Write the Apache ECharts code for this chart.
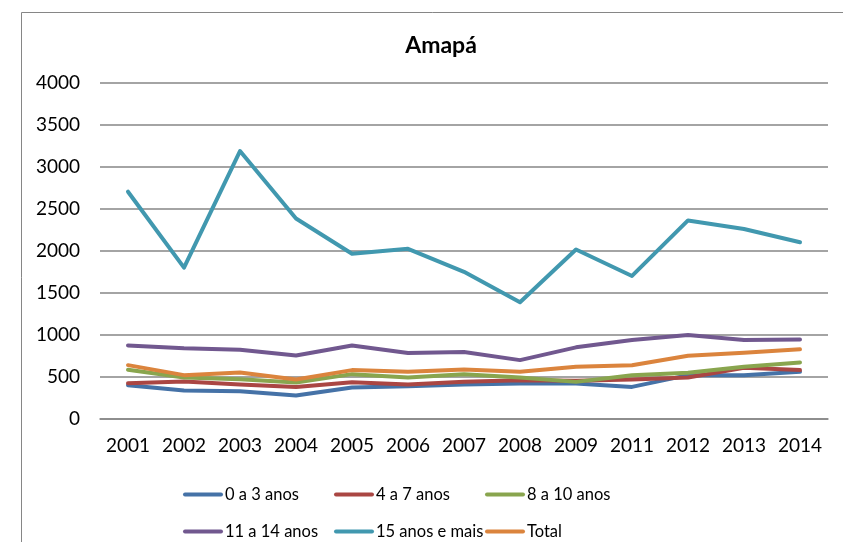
<!DOCTYPE html>
<html>
<head>
<meta charset="utf-8">
<script src="https://cdn.jsdelivr.net/npm/echarts@6/dist/echarts.min.js"></script>
<style>
html,body{margin:0;padding:0;background:#fff;}
#chart{width:843px;height:542px;}
</style>
</head>
<body>
<div id="chart"></div>
<script>
const title = "Amapá";
const years = ["2001","2002","2003","2004","2005","2006","2007","2008","2009","2011","2012","2013","2014"];
const yTicks = [0, 500, 1000, 1500, 2000, 2500, 3000, 3500, 4000];
const seriesNames = ["0 a 3 anos", "4 a 7 anos", "8 a 10 anos", "11 a 14 anos", "15 anos e mais", "Total"];
const age0to3   = [402, 339, 331, 279, 374, 390, 410, 422, 422, 382, 522, 522, 562];
const age4to7   = [426, 446, 410, 382, 438, 410, 442, 462, 454, 470, 494, 610, 582];
const age8to10  = [586, 494, 474, 434, 534, 494, 534, 494, 442, 522, 550, 622, 673];
const age11to14 = [876, 841, 825, 757, 876, 785, 797, 701, 853, 940, 1000, 940, 945];
const age15plus = [2706, 1802, 3190, 2387, 1967, 2026, 1752, 1389, 2018, 1703, 2364, 2262, 2104];
const total     = [641, 522, 554, 470, 582, 562, 590, 562, 622, 641, 753, 789, 829];

const seriesData = [age0to3, age4to7, age8to10, age11to14, age15plus, total];
const colors = ["#4572A7", "#AA4643", "#89A54E", "#71588F", "#4198AF", "#DB843D"];
const font = "Lato, 'Liberation Sans', sans-serif";

const legendPos = [
  {left: 178, top: 481}, {left: 329, top: 481}, {left: 480, top: 481},
  {left: 178, top: 518}, {left: 329, top: 518}, {left: 480, top: 518}
];

const chart = echarts.init(document.getElementById('chart'), null, {renderer: 'canvas'});
const option = {
  backgroundColor: '#ffffff',
  animation: false,
  color: colors,
  title: {
    text: title,
    left: 436,
    textAlign: 'center',
    top: 29,
    textStyle: {fontFamily: font, fontWeight: 'bold', fontSize: 23, color: '#000'}
  },
  graphic: [{
    type: 'rect',
    shape: {x: 21.5, y: 12.5, width: 900, height: 600},
    style: {fill: 'none', stroke: '#868686', lineWidth: 1},
    silent: true
  }],
  legend: seriesNames.map((n, i) => ({
    data: [n],
    left: legendPos[i].left,
    top: legendPos[i].top,
    itemWidth: 40,
    itemHeight: 4,
    icon: 'path://M2,0 L38,0 A2,2 0 0 1 38,4 L2,4 A2,2 0 0 1 2,0 Z',
    textStyle: {fontFamily: font, fontSize: 16.5, color: '#000', padding: [0, 0, 0, -3]}
  })),
  grid: {left: 100, right: 15, top: 83, bottom: 123, containLabel: false},
  xAxis: {
    type: 'category',
    data: years,
    boundaryGap: true,
    axisLine: {show: true, lineStyle: {color: '#868686', width: 1.5}},
    axisTick: {show: false},
    axisLabel: {fontFamily: font, fontSize: 19, color: '#000', margin: 17, interval: 0}
  },
  yAxis: {
    type: 'value',
    min: yTicks[0],
    max: yTicks[yTicks.length - 1],
    interval: yTicks[1] - yTicks[0],
    axisLine: {show: false},
    axisTick: {show: false},
    splitLine: {show: true, lineStyle: {color: '#868686', width: 1.5}},
    axisLabel: {fontFamily: font, fontSize: 19, color: '#000', margin: 20, formatter: v => String(v)}
  },
  series: seriesNames.map((n, i) => ({
    name: n,
    type: 'line',
    data: seriesData[i],
    symbol: 'none',
    lineStyle: {width: 4, color: colors[i], cap: 'round', join: 'round'},
    itemStyle: {color: colors[i]}
  }))
};
chart.setOption(option);
</script>
</body>
</html>
